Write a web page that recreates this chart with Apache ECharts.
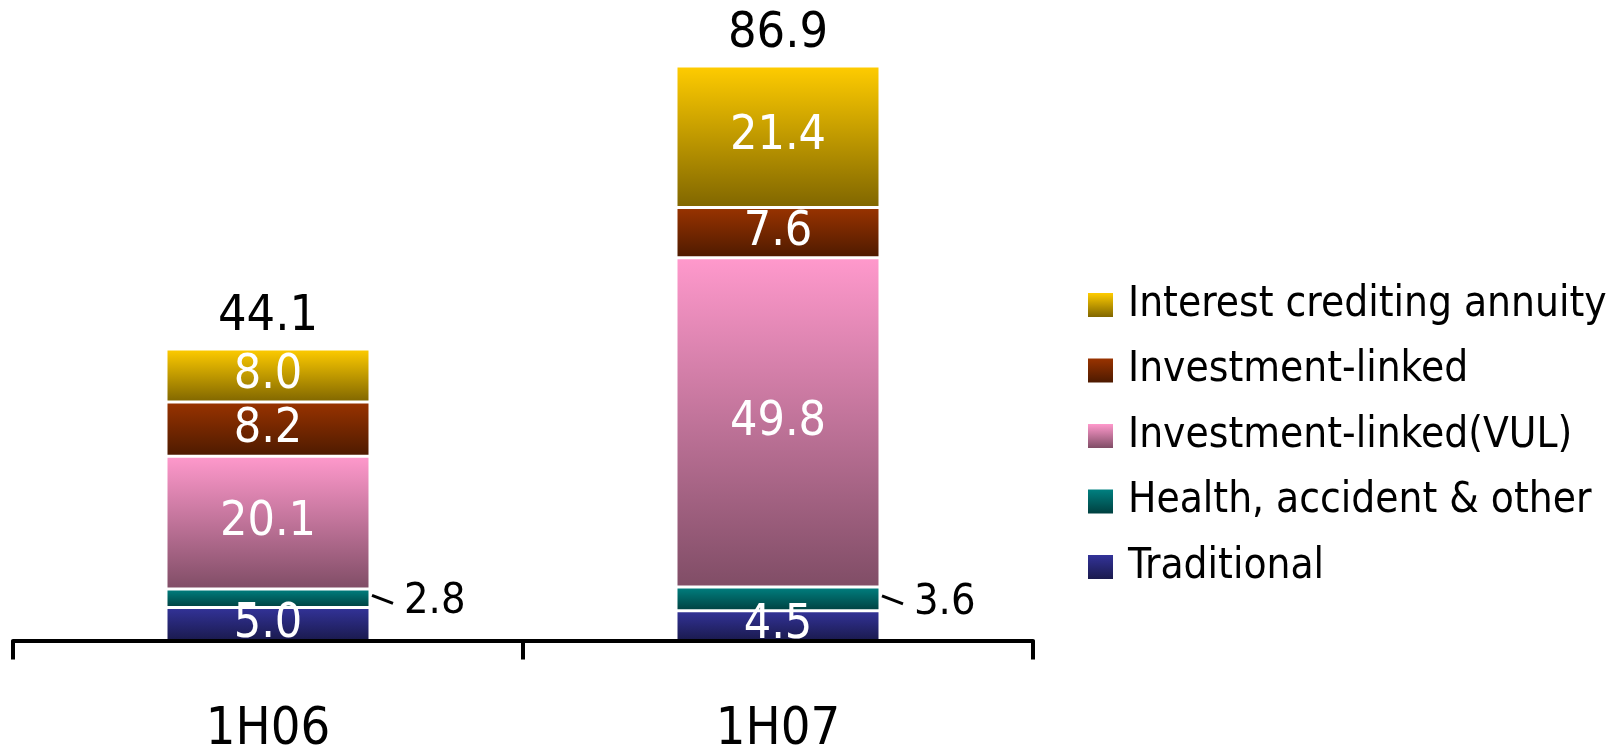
<!DOCTYPE html>
<html>
<head>
<meta charset="utf-8">
<style>
  html, body { margin: 0; padding: 0; background: #ffffff; }
  #chart { width: 1620px; height: 750px; }
</style>
<script src="https://cdn.jsdelivr.net/npm/echarts@6/dist/echarts.min.js"></script>
</head>
<body>
<div id="chart"></div>
<script>
// Half-year new business premium by product line
const categories = ['1H06', '1H07'];
const traditional = [5.0, 4.5];
const health = [2.8, 3.6];
const vul = [20.1, 49.8];
const investmentLinked = [8.2, 7.6];
const annuity = [8.0, 21.4];

const seriesNames = {
  traditional: 'Traditional',
  health: 'Health, accident & other',
  vul: 'Investment-linked(VUL)',
  investmentLinked: 'Investment-linked',
  annuity: 'Interest crediting annuity'
};

const FONT = "'DejaVu Sans Condensed', 'DejaVu Sans', sans-serif";

function grad(top, bottom) {
  return new echarts.graphic.LinearGradient(0, 0, 0, 1, [
    { offset: 0, color: top },
    { offset: 1, color: bottom }
  ]);
}

const fmt = p => Number(p.value).toFixed(1);

const insideLabel = {
  show: true,
  position: 'inside',
  color: '#ffffff',
  fontFamily: FONT,
  fontSize: 48,
  formatter: fmt
};

function stackBar(name, data, top, bottom, label) {
  return {
    name: name,
    type: 'bar',
    stack: 'total',
    barWidth: '40%',
    data: data,
    itemStyle: { color: grad(top, bottom), borderColor: '#ffffff', borderWidth: 1.5 },
    label: label || insideLabel,
    emphasis: { disabled: true }
  };
}

// stack totals shown above each column
const totals = categories.map((_, i) =>
  +(traditional[i] + health[i] + vul[i] + investmentLinked[i] + annuity[i]).toFixed(1));

const option = {
  backgroundColor: '#ffffff',
  animation: false,
  grid: { left: 13, right: 587, top: 45.6, bottom: 109.4, outerBoundsMode: 'none', containLabel: false },
  legend: {
    orient: 'vertical',
    left: 1083,
    top: 278,
    itemWidth: 25,
    itemHeight: 24,
    itemGap: 21.5,
    icon: 'rect',
    itemStyle: { borderWidth: 0 },
    textStyle: { fontFamily: FONT, fontSize: 42, lineHeight: 44, color: '#000000', padding: [0, 0, 0, 10] },
    data: [seriesNames.annuity, seriesNames.investmentLinked, seriesNames.vul, seriesNames.health, seriesNames.traditional]
  },
  xAxis: {
    type: 'category',
    data: categories,
    z: 10,
    axisLine: { show: true, lineStyle: { color: '#000000', width: 4 } },
    axisTick: { show: true, length: 19, lineStyle: { color: '#000000', width: 4 } },
    axisLabel: { margin: 64, color: '#000000', fontFamily: FONT, fontSize: 52 }
  },
  yAxis: {
    type: 'value',
    min: 0,
    max: 90,
    show: false,
    splitLine: { show: false }
  },
  series: [
    stackBar(seriesNames.traditional, traditional, '#333399', '#1a1a4d'),
    stackBar(seriesNames.health, health, '#008080', '#004040', {
      show: true,
      position: 'right',
      distance: 34,
      offset: [0, 4],
      color: '#000000',
      fontFamily: FONT,
      fontSize: 43,
      formatter: fmt
    }),
    stackBar(seriesNames.vul, vul, '#ff99cc', '#804d66'),
    stackBar(seriesNames.investmentLinked, investmentLinked, '#993300', '#4d1a00'),
    stackBar(seriesNames.annuity, annuity, '#ffcc00', '#806600'),
    {
      name: 'Total',
      type: 'bar',
      stack: 'total',
      barWidth: '40%',
      data: totals.map(() => 0),
      itemStyle: { color: 'rgba(0,0,0,0)', borderWidth: 0 },
      label: {
        show: true,
        position: 'top',
        distance: 7,
        color: '#000000',
        opacity: 1,
        fontFamily: FONT,
        fontSize: 50,
        formatter: p => totals[p.dataIndex].toFixed(1)
      },
      emphasis: { disabled: true },
      silent: true
    }
  ]
};

const chart = echarts.init(document.getElementById('chart'), null, { renderer: 'canvas' });
chart.setOption(option);

// short leader strokes from the thin health segments to their outside labels
const healthData = chart.getModel().getSeriesByIndex(1).getData();
const leaders = categories.map((_, i) => {
  const r = healthData.getItemLayout(i);
  const right = r.x + r.width;
  const midY = r.y + r.height / 2;
  return {
    type: 'line',
    z: 20,
    silent: true,
    shape: { x1: right + 2, y1: midY - 3, x2: right + 23, y2: midY + 5 },
    style: { stroke: '#000000', lineWidth: 3 }
  };
});
chart.setOption({ graphic: leaders });
</script>
</body>
</html>
